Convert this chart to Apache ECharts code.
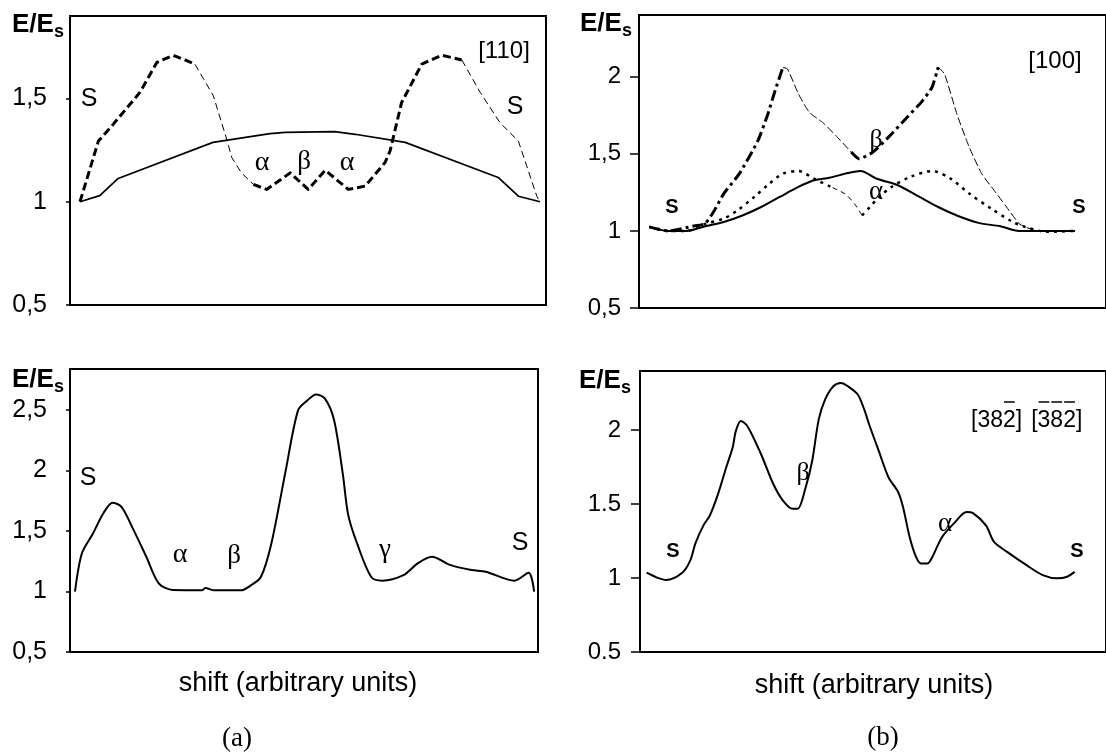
<!DOCTYPE html>
<html><head><meta charset="utf-8">
<script src="https://cdn.jsdelivr.net/npm/echarts@6/dist/echarts.min.js"></script>
<style>html,body{margin:0;padding:0;background:#fff}#c{width:1106px;height:754px}</style>
</head><body><div id="c"></div>
<script>
// ---------- DATA ----------
// (a) top, [110]
const tlSolidX = [0, 4.3, 8.3, 28.9, 41.3, 44.6, 55.4, 59.8, 70.7, 90.9, 95.3, 100];
const tlSolidY = [1.0, 1.03, 1.113, 1.288, 1.33, 1.336, 1.34, 1.327, 1.288, 1.118, 1.027, 1.0];
const tlDashX = [0, 4.0, 7.2, 13.0, 16.7, 20.3, 22.8, 25.0, 29.0, 31.9, 33.0, 35.1, 37.7, 40.6, 45.7, 49.6, 53.3, 58.3, 62.0, 66.3, 67.4, 69.9, 74.3, 78.6, 83.0, 87.0, 91.3, 95.3, 99.3, 100];
const tlDashY = [1.0, 1.294, 1.375, 1.529, 1.675, 1.71, 1.687, 1.666, 1.513, 1.302, 1.214, 1.14, 1.084, 1.06, 1.14, 1.06, 1.153, 1.06, 1.076, 1.19, 1.246, 1.48, 1.667, 1.71, 1.687, 1.53, 1.383, 1.294, 1.027, 1.0];
const tlDashThinRanges = [[25.0, 37.7], [83.0, 100]];
const tlTicks = [0.5, 1, 1.5];
const tlTickLabels = ['0,5', '1', '1,5'];

// (b) top, [100]
const trSolidX = [0, 4.39, 8.77, 13.16, 17.54, 21.93, 26.32, 30.70, 35.09, 38.75, 42.39, 46.78, 49.71, 53.36, 58.49, 63.60, 67.98, 72.37, 77.48, 82.61, 87.00, 100.15];
const trSolidY = [1.026, 1.0, 1.0, 1.03, 1.058, 1.10, 1.155, 1.22, 1.285, 1.328, 1.345, 1.375, 1.388, 1.34, 1.296, 1.22, 1.155, 1.10, 1.052, 1.03, 1.0, 1.0];
const trAlphaX = [0, 4.39, 8.77, 13.16, 17.54, 20.46, 24.85, 27.78, 31.43, 35.09, 38.75, 43.14, 46.05, 48.25, 50.07, 51.91, 54.10, 57.02, 61.40, 66.51, 70.90, 75.29, 80.42, 85.53, 88.44, 93.57, 100.15];
const trAlphaY = [1.026, 1.0, 1.0, 1.045, 1.08, 1.127, 1.224, 1.295, 1.371, 1.388, 1.339, 1.28, 1.24, 1.177, 1.10, 1.155, 1.22, 1.285, 1.35, 1.388, 1.339, 1.242, 1.145, 1.058, 1.026, 0.994, 1.0];
const trAlphaThinRanges = [[43.14, 50.07]];
const trBetaX = [0, 4.39, 10.24, 13.16, 15.35, 17.54, 21.21, 25.59, 27.79, 29.61, 31.43, 32.52, 35.09, 37.65, 40.94, 43.86, 47.52, 49.34, 52.63, 56.29, 60.68, 64.32, 66.51, 67.98, 69.45, 72.37, 75.29, 78.22, 81.14, 84.06, 86.99, 88.44, 91.38, 100.15];
const trBetaY = [1.026, 1.0, 1.03, 1.048, 1.134, 1.242, 1.371, 1.587, 1.748, 1.91, 2.06, 2.05, 1.889, 1.77, 1.70, 1.619, 1.511, 1.468, 1.511, 1.608, 1.737, 1.845, 1.931, 2.061, 2.018, 1.759, 1.543, 1.371, 1.263, 1.155, 1.048, 1.026, 1.0, 1.0];
const trBetaThinRanges = [[31.43, 47.52], [67.98, 100.15]];
const trTicks = [0.5, 1, 1.5, 2];
const trTickLabels = ['0,5', '1', '1,5', '2'];

// (a) bottom
const blX = [0, 1.5, 3.9, 6.2, 8.2, 10.1, 12.4, 15.5, 18.2, 21.3, 27.6, 28.3, 30.3, 36.1, 38.0, 40.4, 42.7, 45.8, 48.5, 50.5, 52.4, 54.3, 56.3, 58.2, 59.4, 61.3, 64.4, 66.8, 71.4, 74.5, 77.6, 81.5, 86.2, 89.3, 95.5, 98.6, 99.8];
const blY = [1.0, 1.316, 1.48, 1.65, 1.734, 1.70, 1.535, 1.288, 1.068, 1.012, 1.01, 1.03, 1.01, 1.01, 1.045, 1.12, 1.40, 2.0, 2.5, 2.58, 2.63, 2.597, 2.42, 1.977, 1.632, 1.40, 1.12, 1.09, 1.136, 1.233, 1.288, 1.22, 1.178, 1.164, 1.09, 1.155, 1.0];
const blTicks = [0.5, 1, 1.5, 2, 2.5];
const blTickLabels = ['0,5', '1', '1,5', '2', '2,5'];

// (b) bottom
const brX = [-0.64, 1.67, 3.95, 7.76, 9.67, 10.83, 12.74, 14.25, 16.18, 18.09, 19.61, 20.37, 21.54, 23.05, 26.12, 29.17, 31.45, 33.75, 34.89, 36.80, 38.33, 39.87, 41.38, 43.31, 45.07, 46.73, 49.04, 50.57, 51.71, 53.99, 56.29, 58.57, 59.71, 61.25, 62.76, 63.93, 65.46, 66.60, 68.90, 71.95, 74.63, 76.16, 79.21, 81.12, 84.19, 88.77, 92.59, 96.03, 98.31, 100.07];
const brY = [1.036, 1.005, 0.987, 1.036, 1.121, 1.233, 1.356, 1.423, 1.569, 1.748, 1.882, 1.995, 2.062, 2.028, 1.849, 1.636, 1.524, 1.468, 1.468, 1.614, 1.793, 2.073, 2.208, 2.297, 2.319, 2.297, 2.241, 2.14, 2.04, 1.86, 1.681, 1.58, 1.479, 1.278, 1.143, 1.099, 1.099, 1.143, 1.278, 1.378, 1.446, 1.439, 1.356, 1.244, 1.177, 1.087, 1.02, 0.998, 1.009, 1.042];
const brTicks = [0.5, 1, 1.5, 2];
const brTickLabels = ['0.5', '1', '1.5', '2'];

// ---------- HELPERS ----------
const SANS = '"Liberation Sans", Arial, Helvetica, sans-serif';
const SERIF = '"Liberation Serif", "Times New Roman", serif';
const BLACK = '#000';

function pairs(xs, ys) { return xs.map((x, i) => [x, ys[i]]); }
function split(xs, ys, ranges, wantThin) {
  const out = []; let last = -2;
  for (let i = 0; i < xs.length - 1; i++) {
    const thin = ranges.some(r => xs[i] >= r[0] && xs[i + 1] <= r[1]);
    if (thin !== wantThin) continue;
    if (last !== i) {
      if (out.length) out.push([(xs[last] + xs[i]) / 2, '-']);
      out.push([xs[i], ys[i]]);
    }
    out.push([xs[i + 1], ys[i + 1]]);
    last = i + 1;
  }
  return out;
}
function lineSeries(g, data, width, type, smooth) {
  return {
    type: 'line', xAxisIndex: g, yAxisIndex: g, data: data,
    symbol: 'none', showSymbol: false, smooth: smooth || false, silent: true,
    animation: false, connectNulls: false,
    lineStyle: { color: BLACK, width: width, type: type || 'solid', cap: 'butt', join: 'round' }
  };
}
function yAxis(g, max, ticks, labels, tickLen, margin, fs) {
  return {
    gridIndex: g, type: 'value', min: 0.5, max: max, interval: 0.5,
    axisLine: { show: true, onZero: false, lineStyle: { color: BLACK, width: 2 } },
    axisTick: { show: true, inside: false, length: tickLen, customValues: ticks, lineStyle: { color: BLACK, width: 1.5 } },
    axisLabel: {
      customValues: ticks, margin: margin, color: BLACK, fontSize: fs, fontFamily: SANS,
      formatter: v => { const i = ticks.findIndex(t => Math.abs(t - v) < 1e-9); return i >= 0 ? labels[i] : ''; }
    },
    splitLine: { show: false }
  };
}
function xAxis(g, min, max) {
  return { gridIndex: g, type: 'value', min: min, max: max,
    axisLine: { show: false, onZero: false }, axisTick: { show: false }, axisLabel: { show: false }, splitLine: { show: false } };
}
function grid(left, top, width, height) {
  return { left, top, width, height, show: true, borderColor: BLACK, borderWidth: 2, backgroundColor: 'transparent' };
}

const mctx = document.createElement('canvas').getContext('2d');
function tw(text, font) { mctx.font = font; return mctx.measureText(text).width; }

function txt(x, y, text, fs, family, weight, align) {
  return { type: 'text', x: x, y: y, silent: true,
    style: { text: text, fontSize: fs, fontFamily: family, fontWeight: weight || 'normal', fill: BLACK,
      align: align || 'center', verticalAlign: 'middle' } };
}
function ees(x, yc) {
  const w = tw('E/E', 'bold 26px "Liberation Sans"');
  return [txt(x, yc, 'E/E', 26, SANS, 'bold', 'left'), txt(x + w, yc + 7, 's', 18, SANS, 'bold', 'left')];
}

// Miller index label with overlines
function miller(x0, yc) {
  const f = '23px "Liberation Sans"';
  const gap = 9;
  const a = '[382]';
  const x1 = x0 + tw(a, f) + gap;
  const els = [txt(x0, yc, a, 23, SANS, 'normal', 'left'), txt(x1, yc, a, 23, SANS, 'normal', 'left')];
  const oy = yc - 19;
  const bars = [[x0 + tw('[38', f), x0 + tw('[382', f)],
    [x1 + tw('[', f), x1 + tw('[3', f)], [x1 + tw('[3', f), x1 + tw('[38', f)], [x1 + tw('[38', f), x1 + tw('[382', f)]];
  bars.forEach(b => els.push({ type: 'line', silent: true, shape: { x1: b[0] + 1, y1: oy, x2: b[1] - 1, y2: oy },
    style: { stroke: BLACK, lineWidth: 1.5 } }));
  return els;
}

const thickDash = [8, 4];
const thinDash = [7, 4];
const dashDot = [11, 4, 3, 4];
const dotted = [3, 5];

const option = {
  backgroundColor: '#fff',
  animation: false,
  grid: [grid(70, 16, 476, 289), grid(639, 15, 501, 293), grid(70, 369, 468, 283), grid(640, 371, 500, 281)],
  xAxis: [xAxis(0, -2.17, 101.3), xAxis(1, -2.41, 107.46), xAxis(2, -1.09, 100.65), xAxis(3, -2.19, 107.46)],
  yAxis: [
    yAxis(0, 1.9, tlTicks, tlTickLabels, 4, 23, 25),
    yAxis(1, 2.4, trTicks, trTickLabels, 9, 18, 24),
    yAxis(2, 2.84, blTicks, blTickLabels, 4, 23, 25),
    yAxis(3, 2.4, brTicks, brTickLabels, 9, 19, 24)
  ],
  series: [
    lineSeries(0, pairs(tlSolidX, tlSolidY), 1.7),
    lineSeries(0, split(tlDashX, tlDashY, tlDashThinRanges, false), 3, thickDash),
    lineSeries(0, split(tlDashX, tlDashY, tlDashThinRanges, true), 1, thinDash),
    lineSeries(1, pairs(trSolidX, trSolidY), 2, 'solid', 0.3),
    lineSeries(1, split(trAlphaX, trAlphaY, trAlphaThinRanges, false), 2.5, dotted, 0.3),
    lineSeries(1, split(trAlphaX, trAlphaY, trAlphaThinRanges, true), 1, [5, 4], 0.3),
    lineSeries(1, split(trBetaX, trBetaY, trBetaThinRanges, false), 3, dashDot, 0.2),
    lineSeries(1, split(trBetaX, trBetaY, trBetaThinRanges, true), 1, [8, 3], 0.2),
    lineSeries(2, pairs(blX, blY), 2, 'solid', 0.3),
    lineSeries(3, pairs(brX, brY), 2, 'solid', 0.3)
  ],
  graphic: [].concat(
    ees(12, 25), ees(580, 24), ees(12, 380), ees(579, 381),
    [
      // (a) top
      txt(89, 99, 'S', 25, SANS), txt(515, 107, 'S', 25, SANS),
      txt(262, 163, 'α', 28, SERIF), txt(304, 162, 'β', 27, SERIF), txt(347, 163, 'α', 28, SERIF),
      txt(504, 51, '[110]', 24, SANS),
      // (b) top
      txt(672, 207, 'S', 20, SANS, 'bold'), txt(1079, 207, 'S', 20, SANS, 'bold'),
      txt(876, 140, 'β', 26, SERIF), txt(876, 192, 'α', 27, SERIF),
      txt(1055, 61, '[100]', 24, SANS),
      // (a) bottom
      txt(88, 478, 'S', 25, SANS), txt(520, 543, 'S', 25, SANS),
      txt(180, 555, 'α', 28, SERIF), txt(234, 556, 'β', 27, SERIF), txt(385, 550, 'γ', 27, SERIF),
      txt(298, 684, 'shift (arbitrary units)', 27, SANS),
      txt(237, 739, '(a)', 27, SERIF),
      // (b) bottom
      txt(673, 551, 'S', 20, SANS, 'bold'), txt(1077, 551, 'S', 20, SANS, 'bold'),
      txt(803, 473, 'β', 26, SERIF), txt(945, 524, 'α', 27, SERIF),
      txt(874, 686, 'shift (arbitrary units)', 27, SANS),
      txt(883, 738, '(b)', 27, SERIF)
    ],
    miller(971, 421)
  )
};

const chart = echarts.init(document.getElementById('c'), null, { renderer: 'canvas' });
chart.setOption(option);
</script>
</body></html>
